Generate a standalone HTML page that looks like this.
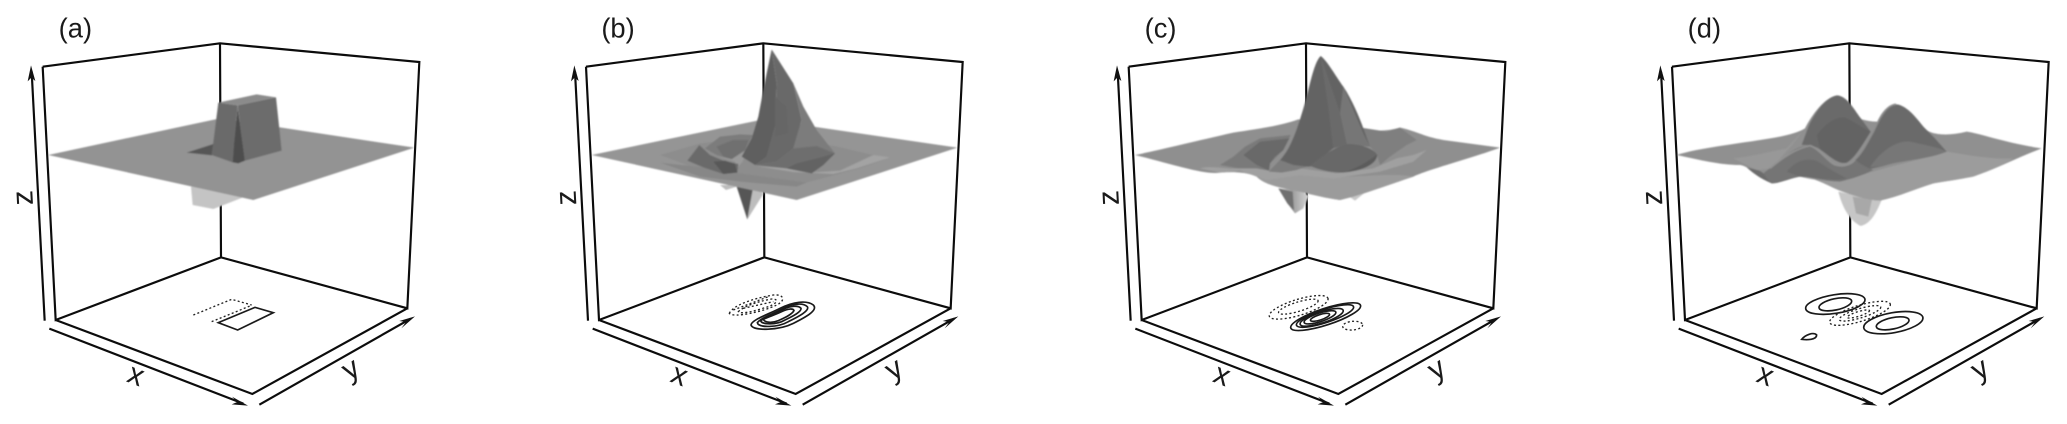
<!DOCTYPE html>
<html><head><meta charset="utf-8">
<style>
html,body{margin:0;padding:0;background:#fff}
svg{display:block}
text{font-family:"Liberation Sans",sans-serif;fill:#1a1a1a;font-size:82px}
text.l{font-size:90px}
.f{fill:none;stroke:#0c0c0c;stroke-width:6.5;stroke-linejoin:miter}
.c{fill:none;stroke:#1a1a1a;stroke-width:5}
.d{fill:none;stroke:#222;stroke-width:4;stroke-dasharray:6 7}
</style></head><body>
<svg xmlns="http://www.w3.org/2000/svg" width="2067" height="424" viewBox="0 0 2067 424">
<defs>
<filter id="b" x="-5%" y="-5%" width="110%" height="110%"><feGaussianBlur stdDeviation="2"/></filter>
<linearGradient id="sp" x1="0" y1="0" x2="1" y2="0"><stop offset="0" stop-color="#cfcfcf"/><stop offset=".45" stop-color="#9c9c9c"/><stop offset="1" stop-color="#d4d4d4"/></linearGradient>
<g id="fr">
<path class="f" d="M128 200L660 130L1258 186L1222 925L663 772L167 960L128 200M660 130L663 772M167 960L757 1182L1222 925"/>
<path class="f" d="M134 962L95 215M148 986L730 1211M778 1214L1232 956"/>
<path d="M93 196L83 244L94 233L106 243Z" fill="#111"/>
<path d="M744 1217L696 1190L712 1206L695 1213Z" fill="#111"/>
<path d="M1245 949L1198 963L1218 966L1204 985Z" fill="#111"/>
</g>
</defs>

<!-- panel a -->
<g transform="scale(.33333)">
<use href="#fr"/>
<text x="176" y="113">(a)</text>
<text class="l" transform="translate(98,592) rotate(-93)" text-anchor="middle">z</text>
<text class="l" transform="translate(398,1152) rotate(21)" text-anchor="middle">x</text>
<text class="l" transform="translate(1066,1132) rotate(-30)" text-anchor="middle">y</text>
<g filter="url(#b)">
<polygon points="573,560 578,615 640,627 735,590 700,560" fill="#c4c4c4"/>
<polygon points="145,465 660,355 1243,443 760,600" fill="#939393"/>
<polygon points="560,458 640,432 636,466" fill="#575757"/>
<polygon points="655,308 770,283 828,292 713,316" fill="#8b8b8b"/>
<polygon points="655,308 713,316 702,430 698,487 635,465" fill="#6a6a6a"/>
<polygon points="713,320 735,482 715,490 698,487 702,430" fill="#4e4e4e"/>
<polygon points="713,316 828,292 845,452 735,482" fill="#6c6c6c"/>
</g>
<path d="M655 968L765 922L820 938L713 990Z" fill="none" stroke="#1a1a1a" stroke-width="5"/>
<path class="d" d="M580 945L695 898L755 915M635 965L750 918"/>
</g>

<!-- panel b -->
<g transform="translate(520,0) scale(.33333)">
<use href="#fr" x="70"/>
<text x="244" y="113">(b)</text>
<text class="l" transform="translate(168,592) rotate(-93)" text-anchor="middle">z</text>
<text class="l" transform="translate(468,1152) rotate(21)" text-anchor="middle">x</text>
<text class="l" transform="translate(1136,1132) rotate(-30)" text-anchor="middle">y</text>
<g transform="translate(420,120)" filter="url(#b)">
<polygon points="180,435 198,450 230,440 262,538 310,462 280,435" fill="#bdbdbd"/>
<polygon points="230,440 262,538 278,450" fill="#575757"/>
<polygon points="-205,345 310,238 892,323 410,480" fill="#959595"/>
<polygon points="0,345 120,310 280,290 525,318 640,345 690,352 600,385 440,428 240,415 120,390" fill="#8d8d8d"/>
<polygon points="290,378 400,396 520,402 590,385 690,352 640,345 540,392 450,398 380,385" fill="#a3a3a3"/>
<polygon points="0,368 130,382 190,402 240,400 440,428 410,440 240,425 120,410" fill="#878787"/>
<polygon points="135,325 180,290 240,283 278,285 255,330 215,357 170,345" fill="#7b7b7b"/>
<polygon points="170,320 220,300 265,300 255,330 215,357 190,350" fill="#707070"/>
<polygon points="175,350 215,358 260,330 248,365 230,385 225,365" fill="#9a9a9a"/>
<polygon points="118,315 82,362 130,382 190,402 232,398 235,372 190,362 150,345" fill="#6a6a6a"/>
<polygon points="160,365 190,402 232,398 225,372 195,362" fill="#585858"/>
<polygon points="335,28 320,100 308,160 295,230 275,295 245,350 285,375 320,350 345,260 350,130" fill="#5f5f5f"/>
<polygon points="335,28 350,130 345,260 320,350 285,375 350,365 400,325 425,240 400,130" fill="#696969"/>
<polygon points="400,130 430,200 470,270 525,340 470,318 400,325 425,240" fill="#7c7c7c"/>
<polygon points="345,170 380,200 385,280 345,290" fill="#666"/>
<polygon points="285,375 350,365 400,325 470,318 525,340 490,375 455,400 380,385" fill="#6e6e6e"/>
<polygon points="380,385 455,400 490,375 525,340 470,355 410,370" fill="#636363"/>
</g>
<path class="c" d="M693 975C695 960 740 945 780 925C820 905 860 900 880 915C895 930 860 950 820 970C780 990 700 995 693 975Z"/>
<path class="c" d="M712 968C725 952 760 942 790 925C820 910 850 908 862 920C870 932 835 950 805 965C775 982 715 985 712 968Z"/>
<path class="c" d="M722 962C740 950 765 940 790 928C810 918 835 915 843 925C845 935 820 948 795 960C770 975 725 975 722 962Z"/>
<path class="c" d="M730 958C745 950 765 945 785 935C805 925 820 925 822 932C815 945 790 955 775 962C755 970 735 968 730 958Z"/>
<path class="d" d="M628 940C640 915 700 895 760 885C790 882 800 900 770 915C730 935 640 955 628 940Z"/>
<path class="d" d="M655 935C670 920 710 905 755 897C775 897 775 907 750 918C715 930 665 945 655 935Z"/>
<path class="d" d="M670 925L760 905M640 930L745 890"/>
</g>

<!-- panel c -->
<g transform="translate(1060,0) scale(.33333)">
<use href="#fr" x="78"/>
<text x="254" y="113">(c)</text>
<text class="l" transform="translate(176,592) rotate(-93)" text-anchor="middle">z</text>
<text class="l" transform="translate(476,1152) rotate(21)" text-anchor="middle">x</text>
<text class="l" transform="translate(1144,1132) rotate(-30)" text-anchor="middle">y</text>
<g transform="translate(420,120)" filter="url(#b)">
<polygon points="235,445 262,490 285,520 310,505 326,468 300,450" fill="url(#sp)"/>
<polygon points="235,445 262,490 282,512 278,455" fill="#707070"/>
<polygon points="445,468 465,482 492,460" fill="#c8c8c8"/>
<path d="M-195 345C-120 330 -20 305 100 278C180 265 240 258 295 238L480 262C510 275 560 275 600 263C640 270 670 290 730 300L900 323C830 350 680 390 640 410C580 430 510 455 460 470L420 480C380 475 340 465 300 455C260 445 200 440 170 410C140 395 100 395 60 398C10 405 -90 370 -195 345Z" fill="#8f8f8f"/>
<path d="M100 395C140 395 150 400 180 415C240 385 290 395 360 405C440 420 560 395 640 410C580 430 510 455 460 470L420 480C380 475 340 465 300 455C260 445 200 440 170 410C140 395 110 400 100 395Z" fill="#9b9b9b"/>
<path d="M0 385C40 375 80 390 115 385L170 385L205 392L300 385L410 400L520 385L590 355L640 345L680 330L640 365L540 395L400 415L300 405L200 420L120 392L60 398Z" fill="#a0a0a0"/>
<polygon points="60,375 100,350 135,320 180,295 272,285 250,330 210,370 207,392 170,385 115,385" fill="#7a7a7a"/>
<polygon points="130,345 180,305 268,295 250,330 225,350 210,370 207,392 170,375" fill="#696969"/>
<polygon points="478,262 560,275 600,263 650,300 620,315 570,350 540,375 530,340 510,320" fill="#7f7f7f"/>
<path d="M362 48C345 65 335 110 320 170C305 225 285 290 265 325C245 360 225 375 207 395L290 380L330 380L400 325L440 312L510 320C495 280 470 200 430 140C405 105 380 60 362 48Z" fill="#646464"/>
<polygon points="430,140 460,210 490,280 510,320 440,312 420,220" fill="#767676"/>
<polygon points="362,48 420,220 440,312 400,325 385,200" fill="#6b6b6b"/>
<path d="M330 378C350 360 400 322 440 312C490 312 525 330 532 345C530 375 480 393 430 398C395 398 360 390 330 378Z" fill="#676767"/>
<path d="M440 395C480 380 510 360 530 345C530 375 480 393 440 395Z" fill="#5c5c5c"/>
<polygon points="240,360 280,375 320,380 290,390 245,398 207,395" fill="#7d7d7d"/>
</g>
<ellipse class="c" cx="797" cy="950" rx="110" ry="25" transform="rotate(-18 797 950)"/>
<ellipse class="c" cx="795" cy="948" rx="90" ry="20" transform="rotate(-18 795 948)"/>
<ellipse class="c" cx="785" cy="952" rx="68" ry="17" transform="rotate(-18 785 952)"/>
<ellipse class="c" cx="780" cy="952" rx="50" ry="13" transform="rotate(-18 780 952)"/>
<ellipse class="c" cx="780" cy="952" rx="30" ry="8" transform="rotate(-18 780 952)"/>
<ellipse class="d" cx="716" cy="922" rx="92" ry="24" transform="rotate(-17 716 922)"/>
<ellipse class="d" cx="715" cy="920" rx="62" ry="14" transform="rotate(-17 715 920)"/>
<ellipse class="d" cx="878" cy="977" rx="30" ry="13" transform="rotate(-5 878 977)"/>
</g>

<!-- panel d -->
<g transform="translate(1600,0) scale(.33333)">
<use href="#fr" x="88"/>
<text x="263" y="113">(d)</text>
<text class="l" transform="translate(186,592) rotate(-93)" text-anchor="middle">z</text>
<text class="l" transform="translate(486,1152) rotate(21)" text-anchor="middle">x</text>
<text class="l" transform="translate(1154,1132) rotate(-30)" text-anchor="middle">y</text>
<g transform="translate(420,240)" filter="url(#b)">
<path d="M295 335C305 375 325 420 362 438C395 430 410 395 425 360Z" fill="#c6c6c6"/>
<polygon points="338,350 348,400 385,410 396,358" fill="#a8a8a8"/>
<path d="M-190 225C-130 205 0 190 60 180C120 172 170 160 195 145C215 105 255 50 292 46C325 50 345 95 365 118C380 122 395 125 412 125C425 95 445 73 468 73C500 75 530 115 550 140C565 165 620 170 680 155C720 160 800 190 905 205C840 230 790 255 740 275C690 295 640 300 580 310C530 325 475 350 420 362C380 360 335 345 295 330C250 310 215 290 180 290C150 295 120 310 95 310C60 295 30 260 0 255C-60 255 -120 240 -190 225Z" fill="#909090"/>
<path d="M180 290C240 305 300 310 350 290C420 265 520 245 620 215C680 225 760 240 820 235C790 255 740 275 700 290C650 300 620 303 580 310C530 325 475 350 420 362C380 360 335 345 295 330C250 310 215 290 180 290Z" fill="#9c9c9c"/>
<path d="M-20 235C30 230 90 215 140 205L190 150L160 190L95 265L50 270Z" fill="#989898"/>
<path d="M205 140C225 95 260 50 292 46C325 50 345 95 365 118L392 155C370 190 345 235 320 248C295 255 265 225 240 208C220 195 200 195 185 195Z" fill="#6b6b6b"/>
<path d="M230 165C260 125 290 110 315 112C345 125 370 145 392 155C370 190 345 235 320 248C295 255 265 225 240 208Z" fill="#636363"/>
<path d="M345 238C370 215 385 180 400 155C420 110 440 75 468 73C500 75 530 115 550 140L585 175L620 215C560 240 480 240 430 258L385 268C365 255 350 245 345 238Z" fill="#6a6a6a"/>
<path d="M390 262C420 215 470 180 510 185C550 195 590 200 620 215C560 240 480 240 430 258Z" fill="#777"/>
<path d="M345 238C370 215 385 180 400 155C420 110 440 75 468 73" fill="none" stroke="#8e8e8e" stroke-width="5"/>
<path d="M70 280C90 265 120 240 140 225C165 205 190 195 210 197C235 205 255 235 280 252C300 260 330 258 345 240C365 255 385 265 400 270C370 285 340 295 300 305C260 305 215 290 180 290C150 295 120 310 95 310C85 305 75 290 70 280Z" fill="#757575"/>
<path d="M140 275C170 240 210 225 250 255C280 275 300 285 320 295C280 305 220 292 180 290Z" fill="#6c6c6c"/>
<path d="M20 262C50 270 60 270 70 280C80 295 90 310 95 310C60 295 40 280 20 262Z" fill="#6c6c6c"/>
<path d="M90 265C120 240 165 205 210 197C235 205 255 235 280 252C300 262 330 258 345 240" fill="none" stroke="#929292" stroke-width="5"/>
</g>
<ellipse class="c" cx="706" cy="912" rx="90" ry="28" transform="rotate(-9 706 912)"/>
<ellipse class="c" cx="706" cy="913" rx="50" ry="17" transform="rotate(-12 706 913)"/>
<ellipse class="c" cx="880" cy="968" rx="90" ry="30" transform="rotate(-10 880 968)"/>
<ellipse class="c" cx="878" cy="970" rx="50" ry="17" transform="rotate(-12 878 970)"/>
<path class="c" d="M605 1018C615 1005 640 995 650 1005C650 1020 620 1020 605 1018Z"/>
<ellipse class="d" cx="780" cy="940" rx="95" ry="24" transform="rotate(-17 780 940)"/>
<ellipse class="d" cx="780" cy="940" rx="65" ry="14" transform="rotate(-17 780 940)"/>
<ellipse class="d" cx="775" cy="942" rx="35" ry="7" transform="rotate(-17 775 942)"/>
</g>
</svg>
</body></html>
